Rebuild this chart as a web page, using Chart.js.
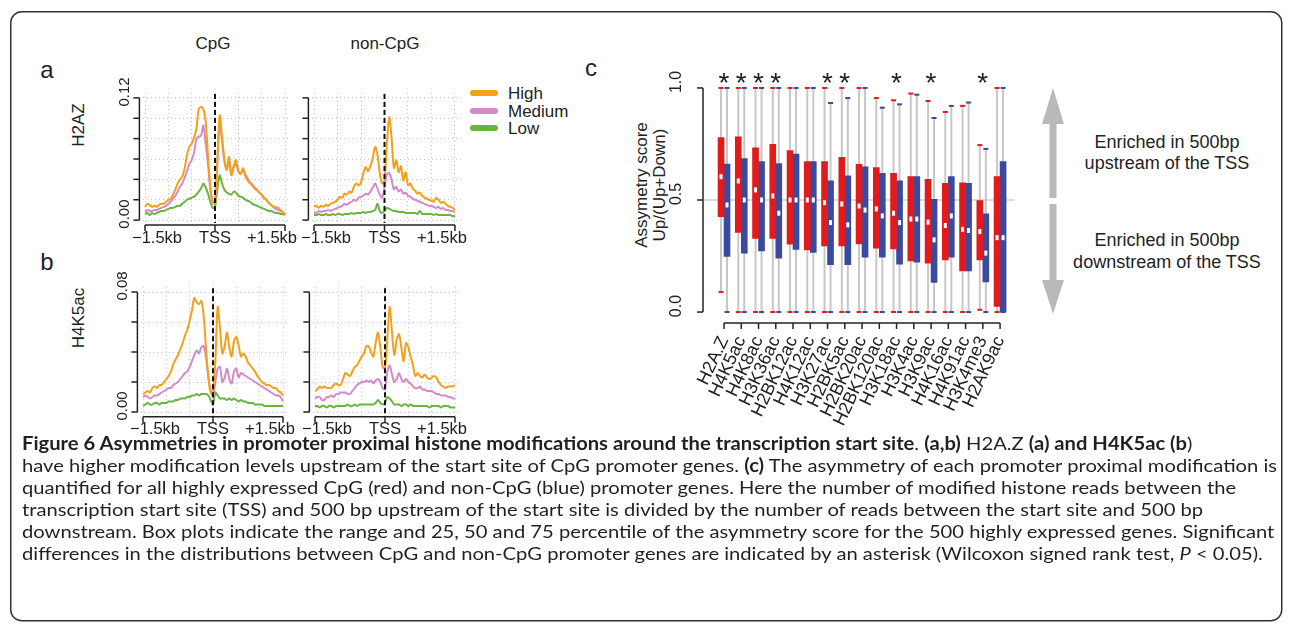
<!DOCTYPE html>
<html>
<head>
<meta charset="utf-8">
<script src="https://cdn.jsdelivr.net/npm/chart.js@4.4.0/dist/chart.umd.min.js"></script>
<style>
  body { margin: 0; width: 1293px; height: 630px; background: #fff; position: relative; overflow: hidden;
         font-family: "Liberation Sans", Arial, sans-serif; color: #222; }
  canvas { position: absolute; }
  .t { position: absolute; white-space: nowrap; line-height: 1; }
  .ctr { transform: translate(-50%, -50%); }
  .rot { transform: translate(-50%, -50%) rotate(-90deg); }
  .key { position: absolute; left: 470px; width: 28px; height: 6px; border-radius: 3px; }
  .cap { position: absolute; left: 22px; white-space: nowrap; font-family: Lato, "Open Sans", sans-serif;
         font-size: 18px; line-height: 22px; color: #231f20; transform-origin: 0 50%; }
</style>
</head>
<body>

<svg width="1293" height="630" style="position:absolute;left:0;top:0">
  <rect x="10.75" y="11.75" width="1271" height="609" rx="11" fill="none" stroke="#333" stroke-width="1.5"/>
  <polygon points="1053,88 1042,124 1064,124" fill="#b9b9b9"/>
  <rect x="1049.5" y="123" width="7" height="75" fill="#b9b9b9"/>
  <rect x="1049.5" y="204" width="7" height="77" fill="#b9b9b9"/>
  <polygon points="1042,280 1064,280 1053,314" fill="#b9b9b9"/>
</svg>

<div class="t ctr" style="left:47px;top:70px;font-size:24px">a</div>
<div class="t ctr" style="left:47px;top:262px;font-size:24px">b</div>
<div class="t ctr" style="left:591px;top:68px;font-size:24px">c</div>
<div class="t ctr" style="left:213px;top:43px;font-size:17px">CpG</div>
<div class="t ctr" style="left:385px;top:43px;font-size:17px">non-CpG</div>
<div class="t rot" style="left:78px;top:125px;font-size:17px">H2AZ</div>
<div class="t rot" style="left:78px;top:318px;font-size:17px">H4K5ac</div>

<div class="key" style="top:90px;background:#f5a01a"></div>
<div class="key" style="top:108px;background:#d48ac8"></div>
<div class="key" style="top:125px;background:#6db33f"></div>
<div class="t" style="left:508px;top:85px;font-size:17px">High</div>
<div class="t" style="left:508px;top:103px;font-size:17px">Medium</div>
<div class="t" style="left:508px;top:120px;font-size:17px">Low</div>

<div class="t rot" style="left:641px;top:185px;font-size:17px">Assymetry score</div>
<div class="t rot" style="left:659px;top:185px;font-size:17px">Up/(Up+Down)</div>

<div class="t ctr" style="left:1167px;top:142px;font-size:18px">Enriched in 500bp</div>
<div class="t ctr" style="left:1167px;top:163px;font-size:18px">upstream of the TSS</div>
<div class="t ctr" style="left:1167px;top:240px;font-size:18px">Enriched in 500bp</div>
<div class="t ctr" style="left:1167px;top:262px;font-size:18px">downstream of the TSS</div>

<canvas id="aCpg" width="195" height="190" style="left:105px;top:60px"></canvas>
<canvas id="aNon" width="170" height="190" style="left:300px;top:60px"></canvas>
<canvas id="bCpg" width="195" height="195" style="left:105px;top:255px"></canvas>
<canvas id="bNon" width="170" height="195" style="left:300px;top:255px"></canvas>
<canvas id="boxes" width="430" height="400" style="left:600px;top:40px"></canvas>

<div class="cap" style="top:432px"><b>Figure 6 Asymmetries in promoter proximal histone modifications around the transcription start site</b>. <b>(a,b)</b> H2A.Z <b>(a) and H4K5ac (b</b>)</div>
<div class="cap" style="top:454px">have higher modification levels upstream of the start site of CpG promoter genes. <b>(c)</b> The asymmetry of each promoter proximal modification is</div>
<div class="cap" style="top:476px">quantified for all highly expressed CpG (red) and non-CpG (blue) promoter genes. Here the number of modified histone reads between the</div>
<div class="cap" style="top:498px">transcription start site (TSS) and 500 bp upstream of the start site is divided by the number of reads between the start site and 500 bp</div>
<div class="cap" style="top:520px">downstream. Box plots indicate the range and 25, 50 and 75 percentile of the asymmetry score for the 500 highly expressed genes. Significant</div>
<div class="cap" style="top:542px">differences in the distributions between CpG and non-CpG promoter genes are indicated by an asterisk (Wilcoxon signed rank test, <i>P</i> &lt; 0.05).</div>

<script>
// profile positions relative to the TSS (bp)
const bpPositions = [-1500,-1450,-1400,-1350,-1300,-1250,-1200,-1150,-1100,-1050,-1000,-950,-900,-850,-800,-750,-700,-650,-600,-550,-500,-450,-400,-350,-300,-250,-200,-150,-100,-50,0,50,100,150,200,250,300,350,400,450,500,550,600,650,700,750,800,850,900,950,1000,1050,1100,1150,1200,1250,1300,1350,1400,1450,1500];
const gridBp = [-1500, -1000, -500, 0, 500, 1000, 1500];
const labelBp = [-1500, 0, 1500];
const labelText = ['\u22121.5kb', 'TSS', '+1.5kb'];
const h2azTicks = [0, 0.02, 0.04, 0.06, 0.08, 0.10, 0.12];
const h4k5acTicks = [0, 0.02, 0.04, 0.06, 0.08];

// H2AZ, CpG promoters
const h2azCpgHigh = [0.013,0.016,0.015,0.013,0.014,0.013,0.015,0.016,0.016,0.018,0.020,0.021,0.025,0.030,0.036,0.040,0.043,0.051,0.064,0.072,0.075,0.081,0.089,0.109,0.111,0.109,0.097,0.063,0.033,0.018,0.016,0.059,0.103,0.082,0.061,0.049,0.062,0.044,0.053,0.059,0.049,0.045,0.051,0.043,0.039,0.036,0.034,0.031,0.029,0.027,0.025,0.022,0.020,0.017,0.015,0.013,0.013,0.012,0.010,0.008,0.005];
const h2azCpgMedium = [0.008,0.010,0.009,0.009,0.010,0.010,0.011,0.012,0.013,0.014,0.016,0.018,0.021,0.024,0.028,0.033,0.036,0.042,0.048,0.055,0.059,0.066,0.079,0.082,0.083,0.093,0.075,0.055,0.030,0.018,0.016,0.055,0.095,0.078,0.058,0.050,0.058,0.045,0.052,0.055,0.048,0.046,0.049,0.045,0.041,0.037,0.035,0.032,0.030,0.027,0.025,0.022,0.020,0.017,0.015,0.013,0.011,0.010,0.009,0.008,0.006];
const h2azCpgLow = [0.006,0.007,0.005,0.007,0.006,0.007,0.008,0.009,0.009,0.010,0.011,0.012,0.012,0.013,0.014,0.014,0.016,0.018,0.020,0.021,0.022,0.023,0.025,0.028,0.031,0.036,0.032,0.026,0.018,0.012,0.013,0.030,0.044,0.036,0.030,0.027,0.026,0.025,0.028,0.027,0.024,0.023,0.022,0.020,0.019,0.018,0.016,0.015,0.014,0.013,0.012,0.011,0.010,0.009,0.009,0.008,0.007,0.007,0.006,0.006,0.005];

// H2AZ, non-CpG promoters
const h2azNonHigh = [0.013,0.014,0.012,0.014,0.013,0.015,0.014,0.016,0.017,0.018,0.020,0.023,0.022,0.026,0.025,0.028,0.027,0.033,0.036,0.034,0.037,0.046,0.052,0.048,0.053,0.061,0.072,0.064,0.046,0.036,0.039,0.074,0.101,0.081,0.051,0.059,0.047,0.053,0.039,0.047,0.034,0.036,0.031,0.029,0.026,0.027,0.024,0.022,0.021,0.020,0.019,0.018,0.022,0.020,0.017,0.018,0.016,0.014,0.013,0.012,0.010];
const h2azNonMedium = [0.008,0.007,0.009,0.008,0.009,0.009,0.010,0.009,0.010,0.011,0.012,0.013,0.014,0.016,0.015,0.017,0.018,0.020,0.019,0.022,0.023,0.024,0.026,0.025,0.028,0.032,0.036,0.031,0.025,0.022,0.032,0.045,0.046,0.040,0.030,0.033,0.028,0.030,0.026,0.027,0.024,0.023,0.021,0.020,0.019,0.018,0.017,0.016,0.015,0.014,0.014,0.013,0.012,0.013,0.011,0.012,0.010,0.010,0.009,0.009,0.008];
const h2azNonLow = [0.005,0.005,0.006,0.005,0.005,0.006,0.005,0.005,0.006,0.005,0.006,0.006,0.005,0.006,0.006,0.006,0.007,0.006,0.007,0.007,0.007,0.008,0.007,0.008,0.008,0.009,0.010,0.016,0.009,0.007,0.009,0.012,0.011,0.010,0.009,0.009,0.008,0.008,0.008,0.007,0.007,0.007,0.007,0.007,0.006,0.009,0.006,0.006,0.006,0.006,0.006,0.005,0.006,0.005,0.005,0.005,0.005,0.005,0.005,0.004,0.004];

// H4K5ac, CpG promoters
const h4k5acCpgHigh = [0.012,0.013,0.014,0.013,0.016,0.017,0.016,0.018,0.018,0.020,0.022,0.024,0.027,0.032,0.035,0.038,0.042,0.046,0.051,0.055,0.061,0.068,0.076,0.073,0.072,0.074,0.064,0.043,0.023,0.013,0.013,0.034,0.070,0.056,0.039,0.044,0.053,0.043,0.037,0.047,0.050,0.044,0.037,0.039,0.037,0.033,0.031,0.029,0.027,0.024,0.022,0.020,0.019,0.018,0.018,0.017,0.016,0.016,0.014,0.013,0.011];
const h4k5acCpgMedium = [0.010,0.011,0.010,0.009,0.010,0.011,0.011,0.012,0.013,0.014,0.015,0.016,0.016,0.018,0.019,0.020,0.022,0.024,0.026,0.027,0.030,0.034,0.038,0.041,0.039,0.043,0.044,0.036,0.024,0.014,0.010,0.020,0.029,0.030,0.020,0.023,0.029,0.022,0.019,0.027,0.029,0.023,0.026,0.025,0.024,0.023,0.022,0.021,0.020,0.019,0.018,0.017,0.016,0.015,0.014,0.013,0.012,0.011,0.011,0.010,0.007];
const h4k5acCpgLow = [0.004,0.005,0.006,0.005,0.005,0.006,0.006,0.005,0.006,0.006,0.006,0.007,0.007,0.007,0.008,0.008,0.009,0.009,0.009,0.010,0.010,0.011,0.011,0.012,0.011,0.012,0.012,0.012,0.011,0.008,0.005,0.013,0.011,0.009,0.009,0.009,0.008,0.009,0.008,0.009,0.008,0.007,0.008,0.007,0.007,0.006,0.006,0.006,0.005,0.005,0.005,0.005,0.004,0.004,0.004,0.004,0.004,0.004,0.004,0.004,0.004];

// H4K5ac, non-CpG promoters
const h4k5acNonHigh = [0.014,0.015,0.017,0.016,0.017,0.016,0.016,0.016,0.018,0.019,0.018,0.018,0.022,0.026,0.025,0.024,0.027,0.030,0.031,0.034,0.037,0.039,0.044,0.044,0.040,0.037,0.046,0.053,0.043,0.030,0.029,0.049,0.070,0.053,0.038,0.048,0.052,0.043,0.034,0.046,0.043,0.037,0.031,0.024,0.026,0.024,0.023,0.025,0.023,0.022,0.023,0.024,0.023,0.020,0.018,0.017,0.016,0.017,0.017,0.017,0.018];
const h4k5acNonMedium = [0.009,0.010,0.010,0.008,0.008,0.010,0.010,0.011,0.010,0.012,0.012,0.013,0.013,0.013,0.012,0.012,0.014,0.016,0.018,0.019,0.020,0.020,0.021,0.020,0.021,0.019,0.021,0.022,0.020,0.016,0.015,0.027,0.031,0.025,0.020,0.022,0.026,0.022,0.020,0.022,0.020,0.019,0.017,0.016,0.016,0.017,0.015,0.015,0.014,0.014,0.014,0.013,0.012,0.012,0.011,0.011,0.011,0.010,0.010,0.009,0.009];
const h4k5acNonLow = [0.004,0.004,0.003,0.004,0.004,0.003,0.004,0.004,0.003,0.004,0.004,0.004,0.004,0.004,0.005,0.004,0.004,0.005,0.004,0.005,0.005,0.005,0.005,0.005,0.005,0.005,0.006,0.008,0.006,0.005,0.006,0.010,0.009,0.007,0.005,0.005,0.005,0.004,0.005,0.005,0.004,0.005,0.004,0.004,0.004,0.004,0.004,0.004,0.004,0.003,0.004,0.004,0.004,0.004,0.003,0.004,0.004,0.004,0.003,0.003,0.003];

// panel c: asymmetry score box plots
const marks = ['H2A.Z','H4K5ac','H4K8ac','H3K36ac','H2BK12ac','H4K12ac','H3K27ac','H2BK5ac','H2BK20ac','H2BK120ac','H3K18ac','H3K4ac','H3K9ac','H4K16ac','H4K91ac','H3K4me3','H2AK9ac'];
const cpgMin    = [0.089,0,0,0,0,0,0,0,0,0,0,0,0,0,0,0.010,0];
const cpgQ1     = [0.426,0.355,0.329,0.329,0.303,0.277,0.295,0.295,0.304,0.285,0.282,0.228,0.218,0.233,0.184,0.233,0.025];
const cpgMedian = [0.604,0.585,0.545,0.518,0.500,0.500,0.488,0.482,0.473,0.460,0.441,0.415,0.401,0.386,0.369,0.359,0.332];
const cpgQ3     = [0.779,0.782,0.733,0.749,0.720,0.671,0.671,0.690,0.659,0.645,0.619,0.604,0.592,0.574,0.577,0.497,0.604];
const cpgMax    = [1,1,1,1,1,1,1,1,1,0.955,0.945,0.975,0.942,0.893,0.920,0.745,1];
const nonMin    = [0,0,0,0,0,0,0,0,0,0,0,0,0,0,0,0,0];
const nonQ1     = [0.248,0.263,0.273,0.240,0.280,0.266,0.211,0.211,0.245,0.245,0.214,0.223,0.132,0.245,0.184,0.134,0.000];
const nonMedian = [0.478,0.500,0.500,0.441,0.500,0.500,0.399,0.389,0.455,0.429,0.399,0.415,0.322,0.429,0.364,0.263,0.332];
const nonQ3     = [0.660,0.685,0.671,0.663,0.705,0.671,0.586,0.608,0.648,0.619,0.585,0.604,0.503,0.604,0.574,0.438,0.671];
const nonMax    = [1,1,1,1,1,1,0.933,0.955,1,0.912,0.927,0.970,0.866,0.920,0.935,0.728,1];
const significant = [1,1,1,1,0,0,1,1,0,0,1,0,1,0,0,1,0];
const scoreTicks = [0, 0.5, 1];
const scoreTickText = ['0.0', '0.5', '1.0'];

const ORANGE = '#f5a01a', PINK = '#d48ac8', GREEN = '#6db33f';
const RED = '#e31a1c', BLUE = '#3a4a9f', INK = '#222';

Chart.defaults.font.family = '"Liberation Sans", Arial, sans-serif';

function line(ctx, x1, y1, x2, y2) {
  ctx.beginPath(); ctx.moveTo(x1, y1); ctx.lineTo(x2, y2); ctx.stroke();
}

// R-style axes, dashed TSS marker and tick texts for the profile panels
const profileAxes = {
  id: 'profileAxes',
  afterDatasetsDraw(chart, args, o) {
    const {ctx, chartArea: a, scales: {x, y}} = chart;
    ctx.save();
    ctx.strokeStyle = '#111'; ctx.lineWidth = 2; ctx.setLineDash([5, 3]);
    const tss = x.getPixelForValue(0);
    line(ctx, tss, a.top + 1, tss, a.bottom - 2);
    ctx.setLineDash([]);

    ctx.strokeStyle = INK; ctx.lineWidth = 1.5;
    const ticks = o.ticks;
    line(ctx, a.left, y.getPixelForValue(ticks[0]), a.left, y.getPixelForValue(ticks[ticks.length - 1]));
    ticks.forEach(v => { const p = y.getPixelForValue(v); line(ctx, a.left, p, a.left - 6, p); });
    line(ctx, x.getPixelForValue(labelBp[0]), a.bottom, x.getPixelForValue(labelBp[2]), a.bottom);
    labelBp.forEach(v => { const p = x.getPixelForValue(v); line(ctx, p, a.bottom, p, a.bottom + 6); });

    ctx.fillStyle = INK;
    ctx.font = '16.5px "Liberation Sans", Arial, sans-serif';
    ctx.textBaseline = 'middle';
    const ly = a.bottom + 13;
    ctx.textAlign = 'left';  ctx.fillText(labelText[0], x.getPixelForValue(labelBp[0]) - 13, ly);
    ctx.textAlign = 'center'; ctx.fillText(labelText[1], x.getPixelForValue(labelBp[1]), ly);
    ctx.textAlign = 'right'; ctx.fillText(labelText[2], x.getPixelForValue(labelBp[2]) + 12, ly);

    if (o.showLabels) {
      ctx.font = '15px "Liberation Sans", Arial, sans-serif';
      ctx.textAlign = 'center'; ctx.textBaseline = 'bottom';
      [ticks[0], ticks[ticks.length - 1]].forEach(v => {
        ctx.save();
        ctx.translate(a.left - 7, y.getPixelForValue(v) - 6);
        ctx.rotate(-Math.PI / 2);
        ctx.fillText(v.toFixed(2), 0, 0);
        ctx.restore();
      });
    }
    ctx.restore();
  }
};

function profile(id, pad, ticks, high, medium, low, showLabels) {
  const top = ticks[ticks.length - 1];
  const series = (vals, color) => ({
    data: vals.map((v, i) => ({x: bpPositions[i], y: v})),
    borderColor: color, borderWidth: 2, pointRadius: 0, tension: 0.3, fill: false
  });
  return new Chart(document.getElementById(id), {
    type: 'line',
    data: {datasets: [series(high, ORANGE), series(medium, PINK), series(low, GREEN)]},
    options: {
      responsive: false, animation: false, events: [],
      layout: {padding: pad},
      plugins: {legend: {display: false}, tooltip: {enabled: false}, profileAxes: {ticks, showLabels}},
      scales: {
        x: {
          type: 'linear', min: -1620, max: 1620,
          afterBuildTicks: s => { s.ticks = gridBp.map(v => ({value: v})); },
          ticks: {display: false},
          grid: {color: '#c4c4c4', lineWidth: 1, drawTicks: false},
          border: {display: false, dash: [1, 3]}
        },
        y: {
          min: -0.04 * top, max: 1.04 * top,
          afterBuildTicks: s => { s.ticks = ticks.map(v => ({value: v})); },
          ticks: {display: false},
          grid: {color: '#c4c4c4', lineWidth: 1, drawTicks: false},
          border: {display: false, dash: [1, 3]}
        }
      }
    },
    plugins: [profileAxes]
  });
}

profile('aCpg', {left: 34.4, right: 9.4, top: 33, bottom: 25}, h2azTicks, h2azCpgHigh, h2azCpgMedium, h2azCpgLow, true);
profile('aNon', {left: 8.4, right: 9.4, top: 33, bottom: 25}, h2azTicks, h2azNonHigh, h2azNonMedium, h2azNonLow, false);
profile('bCpg', {left: 32.4, right: 11.4, top: 32.2, bottom: 33.2}, h4k5acTicks, h4k5acCpgHigh, h4k5acCpgMedium, h4k5acCpgLow, true);
profile('bNon', {left: 9.4, right: 9.4, top: 32.2, bottom: 33.2}, h4k5acTicks, h4k5acNonHigh, h4k5acNonMedium, h4k5acNonLow, false);

// whiskers, medians, axes and asterisks for the box plots
const boxGroups = [
  {min: cpgMin, max: cpgMax, med: cpgMedian, color: RED},
  {min: nonMin, max: nonMax, med: nonMedian, color: BLUE}
];
const boxExtras = {
  id: 'boxExtras',
  beforeDatasetsDraw(chart) {
    const {ctx, chartArea: a, scales: {y}} = chart;
    ctx.save();
    ctx.strokeStyle = '#cfcfcf'; ctx.lineWidth = 1.5;
    const mid = y.getPixelForValue(0.5);
    line(ctx, a.left - 12.4, mid, a.right + 6, mid);
    boxGroups.forEach((g, di) => {
      chart.getDatasetMeta(di).data.forEach((bar, i) => {
        const hi = y.getPixelForValue(g.max[i]), lo = y.getPixelForValue(g.min[i]);
        ctx.strokeStyle = '#cbc6c6'; ctx.lineWidth = 2;
        line(ctx, bar.x, hi, bar.x, lo);
        ctx.fillStyle = g.color;
        ctx.fillRect(bar.x - 2.5, hi - 1, 5, 2);
        ctx.fillRect(bar.x - 2.5, lo - 1, 5, 2);
      });
    });
    ctx.restore();
  },
  afterDatasetsDraw(chart) {
    const {ctx, chartArea: a, scales: {x, y}} = chart;
    ctx.save();
    ctx.fillStyle = '#fff';
    boxGroups.forEach((g, di) => {
      chart.getDatasetMeta(di).data.forEach((bar, i) => {
        ctx.fillRect(bar.x - 1.5, y.getPixelForValue(g.med[i]) - 2.5, 3, 5);
      });
    });
    // y axis
    const ax = a.left - 12.4;
    ctx.strokeStyle = INK; ctx.lineWidth = 1.5;
    line(ctx, ax, y.getPixelForValue(0), ax, y.getPixelForValue(1));
    scoreTicks.forEach(v => { const p = y.getPixelForValue(v); line(ctx, ax, p, ax - 6, p); });
    ctx.fillStyle = INK;
    ctx.font = '16px "Liberation Sans", Arial, sans-serif';
    ctx.textAlign = 'center'; ctx.textBaseline = 'bottom';
    scoreTicks.forEach((v, i) => {
      ctx.save();
      ctx.translate(ax - 18, y.getPixelForValue(v) - 6);
      ctx.rotate(-Math.PI / 2);
      ctx.fillText(scoreTickText[i], 0, 0);
      ctx.restore();
    });
    // x axis
    const ay = a.bottom + 2;
    line(ctx, x.getPixelForValue(0), ay, x.getPixelForValue(marks.length - 1), ay);
    marks.forEach((m, i) => { const p = x.getPixelForValue(i); line(ctx, p, ay, p, ay + 6); });
    // significance asterisks
    ctx.font = '28px "Liberation Sans", Arial, sans-serif';
    ctx.textBaseline = 'alphabetic';
    significant.forEach((s, i) => { if (s) ctx.fillText('*', x.getPixelForValue(i), a.top + 13); });
    ctx.restore();
  }
};

new Chart(document.getElementById('boxes'), {
  type: 'bar',
  data: {
    labels: marks,
    datasets: [
      {label: 'CpG', data: cpgQ1.map((v, i) => [v, cpgQ3[i]]), backgroundColor: RED},
      {label: 'non-CpG', data: nonQ1.map((v, i) => [v, nonQ3[i]]), backgroundColor: BLUE}
    ]
  },
  options: {
    responsive: false, animation: false, events: [],
    layout: {padding: {left: 115.4, right: 21.3, top: 39, bottom: 0}},
    datasets: {bar: {barThickness: 6, borderWidth: 0}},
    plugins: {legend: {display: false}, tooltip: {enabled: false}},
    scales: {
      x: {
        grid: {display: false, drawTicks: false},
        border: {display: false},
        ticks: {autoSkip: false, minRotation: 65, maxRotation: 65, padding: 12, color: INK, font: {size: 18}},
        afterFit: s => { s.height = 119; s.paddingLeft = 0; s.paddingRight = 0; }
      },
      y: {display: false, min: -0.04, max: 1.04}
    }
  },
  plugins: [boxExtras]
});

// caption: one common horizontal scale, taken from the second (full) line
document.fonts.ready.then(() => {
  const lines = document.querySelectorAll('.cap');
  const k = (1277 - 22) / lines[1].getBoundingClientRect().width;
  lines.forEach(el => { el.style.transform = 'scaleX(' + k.toFixed(4) + ')'; });
});
</script>
</body>
</html>
